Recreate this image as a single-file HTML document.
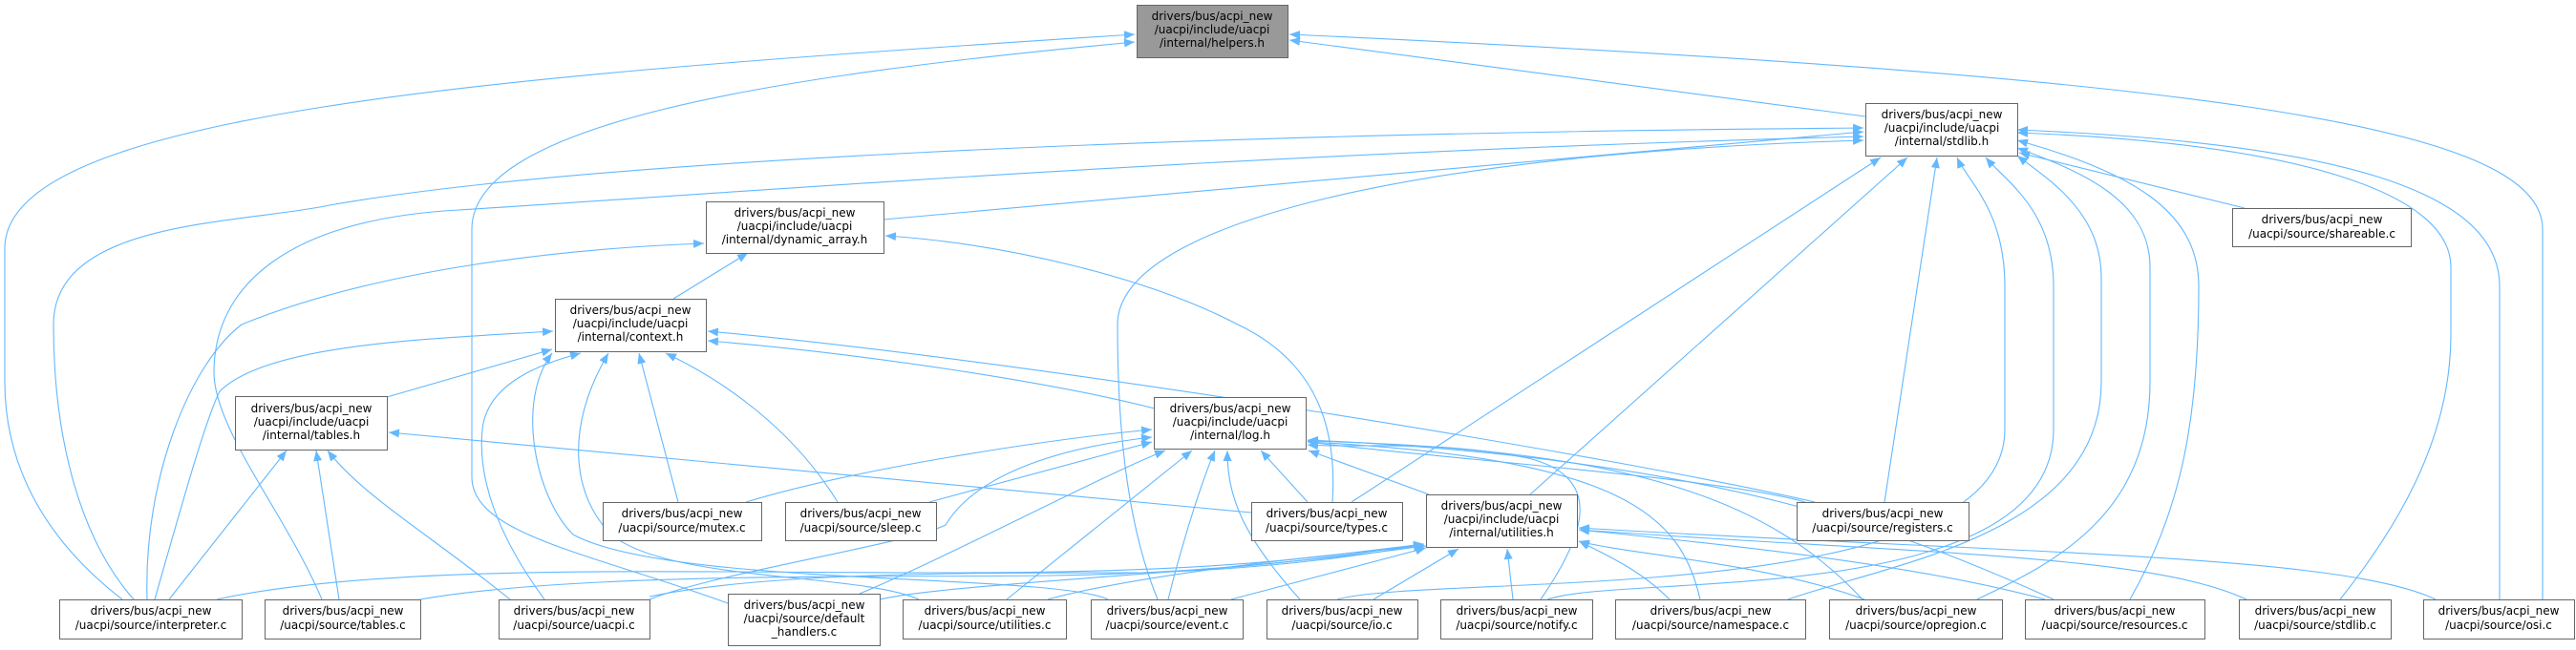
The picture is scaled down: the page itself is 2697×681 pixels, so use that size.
<!DOCTYPE html>
<html><head><meta charset="utf-8"><style>
html,body{margin:0;padding:0;background:#fff;width:2697px;height:681px;overflow:hidden}
text{font-family:"DejaVu Sans","Liberation Sans",sans-serif;font-size:12px;fill:#000}
.e{fill:none;stroke:#63b8ff;stroke-width:1.1;marker-end:url(#a)}
.n{fill:#fff;stroke:#666;stroke-width:1}
</style></head><body>
<svg width="2697" height="681" viewBox="0 0 2697 681" xmlns="http://www.w3.org/2000/svg">
<defs><marker id="a" markerUnits="userSpaceOnUse" markerWidth="12" markerHeight="10" refX="11" refY="4.5" orient="auto"><path d="M0,0 L11,4.5 L0,9 z" fill="#63b8ff"/></marker></defs>
<g>
<!-- helpers -->
<path class="e" d="M1953 122 L1350 42"/>
<path class="e" d="M2662 628 L2662 240 C2662 130 2300 80 1350 36"/>
<path class="e" d="M128 628 C40 560 5 480 5 400 L5 260 C5 120 500 80 1188 36"/>
<path class="e" d="M762 632 C620 580 494 560 494 500 L494 240 C494 130 800 80 1188 44"/>
<!-- stdlib.h -->
<path class="e" d="M925 230 L1951 138"/>
<path class="e" d="M140 628 C80 560 56 450 56 340 C56 230 250 235 345 215 C600 170 1200 140 1951 134"/>
<path class="e" d="M337 628 C300 540 224 450 224 390 C224 300 300 230 480 220 C800 200 1300 160 1951 143"/>
<path class="e" d="M1212 628 C1180 550 1170 450 1170 340 C1170 230 1500 160 1951 147"/>
<path class="e" d="M1415 526 L1969 165"/>
<path class="e" d="M1602 518 L1997 165"/>
<path class="e" d="M1973 526 L2028 165"/>
<path class="e" d="M1400 628 C1500 600 2099 640 2099 450 L2099 300 C2099 220 2060 190 2049 165"/>
<path class="e" d="M1620 628 C1700 600 2150 640 2150 450 L2150 300 C2150 220 2100 190 2079 165"/>
<path class="e" d="M1872 628 C1980 590 2200 560 2200 400 L2200 290 C2200 220 2140 185 2112 163"/>
<path class="e" d="M2070 628 C2150 590 2251 540 2251 400 L2251 280 C2251 210 2180 180 2112 155"/>
<path class="e" d="M2230 628 C2280 540 2302 450 2302 300 C2302 220 2230 180 2112 147"/>
<path class="e" d="M2450 628 C2520 540 2566 450 2566 350 L2566 280 C2566 200 2400 150 2112 139"/>
<path class="e" d="M2617 628 L2617 300 C2617 200 2450 150 2112 136"/>
<path class="e" d="M2350 218 L2114 160"/>
<!-- dynamic_array -->
<path class="e" d="M705 313 L783 265"/>
<path class="e" d="M154 628 C150 500 200 380 253 340 C400 280 600 260 737 255"/>
<path class="e" d="M1395 526 C1400 450 1380 380 1296 340 C1200 290 1050 255 927 247"/>
<!-- context -->
<path class="e" d="M405 416 L578 366"/>
<path class="e" d="M162 628 C190 530 215 440 230 410 C280 360 450 355 579 347"/>
<path class="e" d="M1209 428 C1100 400 900 370 741 357"/>
<path class="e" d="M1900 526 C1700 480 1100 380 741 347"/>
<path class="e" d="M710 526 L669 370"/>
<path class="e" d="M877 526 C830 450 760 400 697 370"/>
<path class="e" d="M570 628 C520 560 500 500 505 450 C510 400 570 380 608 370"/>
<path class="e" d="M962 628 C900 600 700 610 640 560 C600 520 590 450 637 370"/>
<path class="e" d="M1160 628 C1100 600 700 615 600 560 C560 520 540 420 578 370"/>
<!-- log.h -->
<path class="e" d="M973 526 L1206 463"/>
<path class="e" d="M781 526 C900 490 1100 460 1206 450"/>
<path class="e" d="M680 628 C750 600 950 570 990 550 C1020 500 1100 470 1206 458"/>
<path class="e" d="M900 622 C1000 580 1150 500 1220 472"/>
<path class="e" d="M1054 628 L1248 472"/>
<path class="e" d="M1223 628 C1240 560 1260 500 1272 472"/>
<path class="e" d="M1361 628 C1300 560 1285 520 1285 472"/>
<path class="e" d="M1369 526 L1320 472"/>
<path class="e" d="M1496 518 L1370 472"/>
<path class="e" d="M1613 628 C1660 560 1680 500 1600 480 C1500 460 1420 470 1369 466"/>
<path class="e" d="M1890 526 C1800 500 1500 480 1369 463"/>
<path class="e" d="M1780 628 C1760 540 1700 480 1369 463"/>
<path class="e" d="M1950 628 C1850 520 1700 470 1369 462"/>
<path class="e" d="M2150 628 C2000 560 1800 480 1369 461"/>
<!-- tables.h -->
<path class="e" d="M177 628 L300 472"/>
<path class="e" d="M355 628 L331 472"/>
<path class="e" d="M534 628 C450 560 380 520 343 472"/>
<path class="e" d="M1310 537 L407 453"/>
<!-- utilities.h -->
<path class="e" d="M227 628 C400 590 700 600 1000 600 C1300 600 1400 580 1491 570"/>
<path class="e" d="M440 628 C600 600 900 605 1100 603 C1300 600 1420 580 1491 570"/>
<path class="e" d="M680 625 C800 600 1000 600 1200 600 C1350 595 1450 578 1491 570"/>
<path class="e" d="M921 628 C1000 610 1300 600 1491 572"/>
<path class="e" d="M1097 628 C1200 600 1400 580 1493 572"/>
<path class="e" d="M1289 628 L1493 574"/>
<path class="e" d="M1438 628 L1527 575"/>
<path class="e" d="M1584 628 L1578 575"/>
<path class="e" d="M1748 628 C1720 600 1690 585 1653 567"/>
<path class="e" d="M1952 628 C1850 590 1700 580 1653 567"/>
<path class="e" d="M2141 628 C2000 590 1800 570 1653 555"/>
<path class="e" d="M2352 628 C2250 580 2000 580 1653 555"/>
<path class="e" d="M2550 628 C2450 580 2100 580 1653 553"/>
</g>
<g>
<rect x="1190.5" y="5.5" width="158" height="55" fill="#999" stroke="#666"/>
<text text-anchor="middle" x="1269" y="21">drivers/bus/acpi_new</text><text text-anchor="middle" x="1269" y="35">/uacpi/include/uacpi</text><text text-anchor="middle" x="1269" y="49">/internal/helpers.h</text>

<rect class="n" x="1953.5" y="108.5" width="159" height="55"/>
<text text-anchor="middle" x="2033" y="124">drivers/bus/acpi_new</text><text text-anchor="middle" x="2033" y="138">/uacpi/include/uacpi</text><text text-anchor="middle" x="2033" y="152">/internal/stdlib.h</text>

<rect class="n" x="739.5" y="211.5" width="186" height="54"/>
<text text-anchor="middle" x="832" y="227">drivers/bus/acpi_new</text><text text-anchor="middle" x="832" y="241">/uacpi/include/uacpi</text><text text-anchor="middle" x="832" y="255">/internal/dynamic_array.h</text>

<rect class="n" x="581.5" y="313.5" width="158" height="55"/>
<text text-anchor="middle" x="660" y="329">drivers/bus/acpi_new</text><text text-anchor="middle" x="660" y="343">/uacpi/include/uacpi</text><text text-anchor="middle" x="660" y="357">/internal/context.h</text>

<rect class="n" x="246.5" y="415.5" width="159" height="56"/>
<text text-anchor="middle" x="326" y="432">drivers/bus/acpi_new</text><text text-anchor="middle" x="326" y="446">/uacpi/include/uacpi</text><text text-anchor="middle" x="326" y="460">/internal/tables.h</text>

<rect class="n" x="1208.5" y="416.5" width="159" height="54"/>
<text text-anchor="middle" x="1288" y="432">drivers/bus/acpi_new</text><text text-anchor="middle" x="1288" y="446">/uacpi/include/uacpi</text><text text-anchor="middle" x="1288" y="460">/internal/log.h</text>

<rect class="n" x="1493.5" y="518.5" width="158" height="55"/>
<text text-anchor="middle" x="1572" y="534">drivers/bus/acpi_new</text><text text-anchor="middle" x="1572" y="548">/uacpi/include/uacpi</text><text text-anchor="middle" x="1572" y="562">/internal/utilities.h</text>

<rect class="n" x="2337.5" y="218.5" width="187" height="40"/>
<text text-anchor="middle" x="2431" y="234">drivers/bus/acpi_new</text><text text-anchor="middle" x="2431" y="249">/uacpi/source/shareable.c</text>

<rect class="n" x="631.5" y="526.5" width="166" height="40"/>
<text text-anchor="middle" x="714" y="542">drivers/bus/acpi_new</text><text text-anchor="middle" x="714" y="557">/uacpi/source/mutex.c</text>
<rect class="n" x="822.5" y="526.5" width="158" height="40"/>
<text text-anchor="middle" x="901" y="542">drivers/bus/acpi_new</text><text text-anchor="middle" x="901" y="557">/uacpi/source/sleep.c</text>
<rect class="n" x="1310.5" y="526.5" width="158" height="40"/>
<text text-anchor="middle" x="1389" y="542">drivers/bus/acpi_new</text><text text-anchor="middle" x="1389" y="557">/uacpi/source/types.c</text>
<rect class="n" x="1881.5" y="526.5" width="180" height="40"/>
<text text-anchor="middle" x="1971" y="542">drivers/bus/acpi_new</text><text text-anchor="middle" x="1971" y="557">/uacpi/source/registers.c</text>

<rect class="n" x="62.5" y="628.5" width="191" height="41"/>
<text text-anchor="middle" x="158" y="644">drivers/bus/acpi_new</text><text text-anchor="middle" x="158" y="659">/uacpi/source/interpreter.c</text>
<rect class="n" x="277.5" y="628.5" width="163" height="41"/>
<text text-anchor="middle" x="359" y="644">drivers/bus/acpi_new</text><text text-anchor="middle" x="359" y="659">/uacpi/source/tables.c</text>
<rect class="n" x="522.5" y="628.5" width="158" height="41"/>
<text text-anchor="middle" x="601" y="644">drivers/bus/acpi_new</text><text text-anchor="middle" x="601" y="659">/uacpi/source/uacpi.c</text>
<rect class="n" x="762.5" y="622.5" width="159" height="54"/>
<text text-anchor="middle" x="842" y="638">drivers/bus/acpi_new</text><text text-anchor="middle" x="842" y="652">/uacpi/source/default</text><text text-anchor="middle" x="842" y="666">_handlers.c</text>
<rect class="n" x="945.5" y="628.5" width="171" height="41"/>
<text text-anchor="middle" x="1031" y="644">drivers/bus/acpi_new</text><text text-anchor="middle" x="1031" y="659">/uacpi/source/utilities.c</text>
<rect class="n" x="1142.5" y="628.5" width="159" height="41"/>
<text text-anchor="middle" x="1222" y="644">drivers/bus/acpi_new</text><text text-anchor="middle" x="1222" y="659">/uacpi/source/event.c</text>
<rect class="n" x="1326.5" y="628.5" width="158" height="41"/>
<text text-anchor="middle" x="1405" y="644">drivers/bus/acpi_new</text><text text-anchor="middle" x="1405" y="659">/uacpi/source/io.c</text>
<rect class="n" x="1508.5" y="628.5" width="159" height="41"/>
<text text-anchor="middle" x="1588" y="644">drivers/bus/acpi_new</text><text text-anchor="middle" x="1588" y="659">/uacpi/source/notify.c</text>
<rect class="n" x="1691.5" y="628.5" width="199" height="41"/>
<text text-anchor="middle" x="1791" y="644">drivers/bus/acpi_new</text><text text-anchor="middle" x="1791" y="659">/uacpi/source/namespace.c</text>
<rect class="n" x="1915.5" y="628.5" width="181" height="41"/>
<text text-anchor="middle" x="2006" y="644">drivers/bus/acpi_new</text><text text-anchor="middle" x="2006" y="659">/uacpi/source/opregion.c</text>
<rect class="n" x="2120.5" y="628.5" width="188" height="41"/>
<text text-anchor="middle" x="2214" y="644">drivers/bus/acpi_new</text><text text-anchor="middle" x="2214" y="659">/uacpi/source/resources.c</text>
<rect class="n" x="2344.5" y="628.5" width="159" height="41"/>
<text text-anchor="middle" x="2424" y="644">drivers/bus/acpi_new</text><text text-anchor="middle" x="2424" y="659">/uacpi/source/stdlib.c</text>
<rect class="n" x="2537.5" y="628.5" width="158" height="41"/>
<text text-anchor="middle" x="2616" y="644">drivers/bus/acpi_new</text><text text-anchor="middle" x="2616" y="659">/uacpi/source/osi.c</text>
</g>
</svg>
</body></html>
